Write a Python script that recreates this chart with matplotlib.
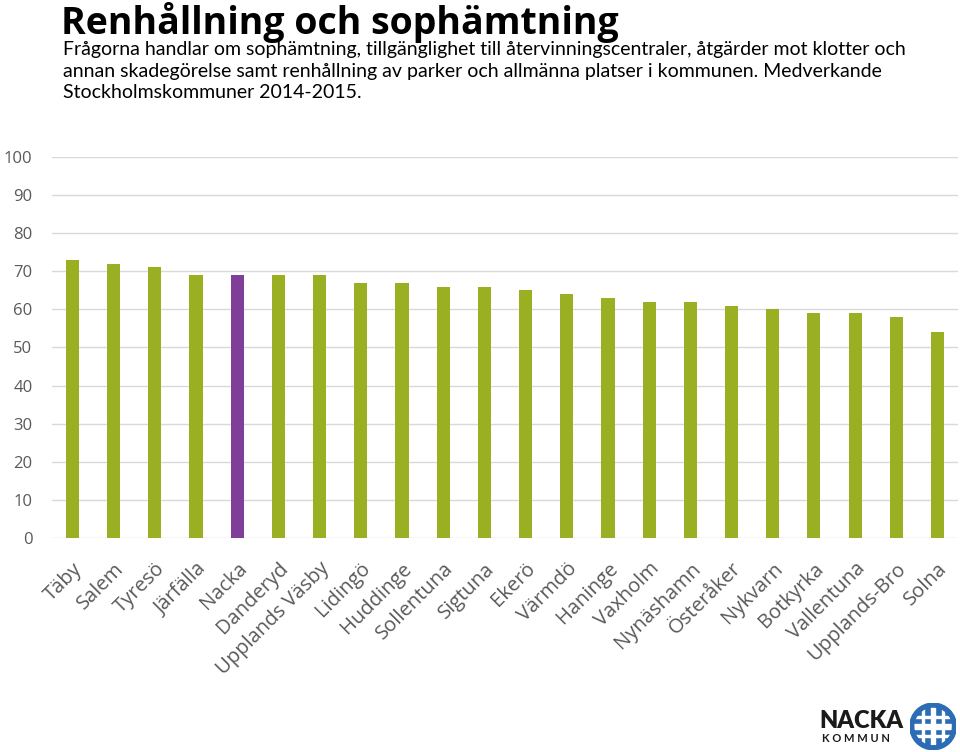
import matplotlib.pyplot as plt
from matplotlib.patches import Circle, Rectangle

kommuner = ["Täby", "Salem", "Tyresö", "Järfälla", "Nacka", "Danderyd", "Upplands Väsby",
            "Lidingö", "Huddinge", "Sollentuna", "Sigtuna", "Ekerö", "Värmdö", "Haninge",
            "Vaxholm", "Nynäshamn", "Österåker", "Nykvarn", "Botkyrka", "Vallentuna",
            "Upplands-Bro", "Solna"]
varden = [73, 72, 71, 69, 69, 69, 69, 67, 67, 66, 66, 65, 64, 63, 62, 62, 61, 60, 59, 59, 58, 54]
markerad = "Nacka"

gron = "#9AAF22"
lila = "#7F3F98"
gra = "#595959"

plt.rcParams['font.family'] = ['Open Sans', 'DejaVu Sans']

fig = plt.figure(figsize=(9.6, 7.52), dpi=100)
ax = fig.add_axes([0.054, 0.2846, 0.944, 0.5066])

farger = [lila if k == markerad else gron for k in kommuner]
ax.bar(range(len(kommuner)), varden, width=0.32, color=farger, zorder=3)

ax.set_xlim(-0.5, len(kommuner) - 0.5)
ax.set_ylim(0, 100)
ax.set_yticks(range(0, 101, 10))
ax.yaxis.grid(True, color="#D9D9D9", linewidth=1, zorder=0)
for s in ax.spines.values():
    s.set_visible(False)
ax.tick_params(axis='both', length=0, colors=gra)
ax.tick_params(axis='y', labelsize=12, pad=14)
ax.set_xticks(range(len(kommuner)))
ax.set_xticklabels(kommuner, rotation=45, ha='right', rotation_mode='anchor',
                   fontsize=14.5, color=gra)
ax.tick_params(axis='x', pad=15)

fig.text(0.064, 0.998, "Renhållning och sophämtning", fontsize=27, fontweight='bold',
         va='top', ha='left')
fig.text(0.066, 0.945,
         "Frågorna handlar om sophämtning, tillgänglighet till återvinningscentraler, åtgärder mot klotter och\n"
         "annan skadegörelse samt renhållning av parker och allmänna platser i kommunen. Medverkande\n"
         "Stockholmskommuner 2014-2015.",
         fontsize=14, va='top', ha='left', linespacing=1.3, family=['Lato', 'DejaVu Sans'])

# logga
fig.text(0.854, 0.032, "NACKA", fontsize=17, fontweight='heavy', color="#1a1a1a",
         family=['Lato', 'DejaVu Sans'])
fig.text(0.856, 0.013, "K O M M U N", fontsize=8, fontweight='bold', color="#1a1a1a",
         family=['Lato', 'DejaVu Sans'])
lax = fig.add_axes([0.944, 0.003, 0.056, 0.062])
lax.set_xlim(-1, 1)
lax.set_ylim(-1, 1)
lax.set_aspect('equal')
lax.axis('off')
cirkel = Circle((0, 0), 1, color="#2B6CB5")
lax.add_patch(cirkel)
for p in (-0.42, 0.0, 0.42):
    w = 0.18 if p == 0 else 0.08
    for r in (Rectangle((p - w / 2, -1), w, 2, color="white"),
              Rectangle((-1, p - w / 2), 2, w, color="white")):
        lax.add_patch(r)
        r.set_clip_path(Circle((0, 0), 0.8, transform=lax.transData))

fig.savefig("out.png", dpi=100)
